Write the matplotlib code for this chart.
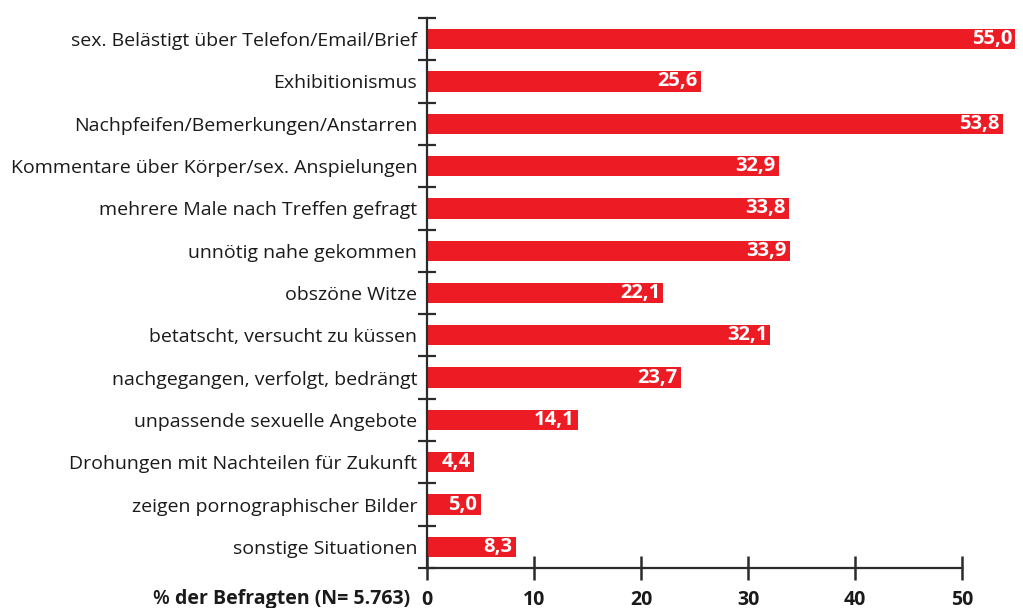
import matplotlib
matplotlib.use("Agg")
import matplotlib.pyplot as plt
import numpy as np

categories = [
    "sex. Belästigt über Telefon/Email/Brief",
    "Exhibitionismus",
    "Nachpfeifen/Bemerkungen/Anstarren",
    "Kommentare über Körper/sex. Anspielungen",
    "mehrere Male nach Treffen gefragt",
    "unnötig nahe gekommen",
    "obszöne Witze",
    "betatscht, versucht zu küssen",
    "nachgegangen, verfolgt, bedrängt",
    "unpassende sexuelle Angebote",
    "Drohungen mit Nachteilen für Zukunft",
    "zeigen pornographischer Bilder",
    "sonstige Situationen",
]
values = [55.0, 25.6, 53.8, 32.9, 33.8, 33.9, 22.1, 32.1, 23.7, 14.1, 4.4, 5.0, 8.3]
xticks = [0, 10, 20, 30, 40, 50]
xlabel_pct = "%"
xlabel_rest = "der Befragten (N= 5.763)"

FONT = "Open Sans"
RED = "#ED1C24"
DARK = "#2b2b2b"

fig = plt.figure(figsize=(10.23, 6.08), dpi=100)
ax = fig.add_axes([427/1023, 1-568/608, (55.5*10.7)/1023, 550/608])

y = np.arange(len(categories))
ax.barh(y, values, height=0.48, color=RED, edgecolor="none")
for yi, v in zip(y, values):
    ax.text(v - 0.3, yi, f"{v:.1f}".replace(".", ","), ha="right", va="center",
            color="white", fontsize=14.5, fontweight="bold", family=FONT)

ax.set_xlim(0, 55.5)
ax.set_ylim(len(categories) - 0.5, -0.5)

for s in ["top", "right"]:
    ax.spines[s].set_visible(False)
ax.spines["left"].set_color(DARK)
ax.spines["left"].set_linewidth(1.6)
ax.spines["bottom"].set_color(DARK)
ax.spines["bottom"].set_linewidth(1.6)
ax.spines["bottom"].set_bounds(0, 50)

ax.set_yticks(y)
ax.set_yticklabels(categories, fontsize=14, family=FONT, color="#1a1a1a")
ax.tick_params(axis="y", which="major", length=0, pad=7)
ax.set_yticks(np.arange(-0.5, len(categories), 1.0), minor=True)
ax.tick_params(axis="y", which="minor", direction="inout", length=13, width=1.6, color=DARK)

ax.set_xticks(xticks)
ax.set_xticklabels([str(t) for t in xticks], fontsize=14, fontweight="bold", family=FONT, color="#1a1a1a")
ax.tick_params(axis="x", which="major", direction="inout", length=17, width=1.8, color=DARK, pad=7)

ty = 1 - 599/608
fig.text(0.4008, ty, xlabel_rest, ha="right", va="center", fontsize=14,
         fontweight="bold", family=FONT, color="#1a1a1a")
fig.text(0.1486, ty, xlabel_pct, ha="left", va="center", fontsize=14,
         fontweight="semibold", family=FONT, color="#1a1a1a")

fig.savefig("out.png", dpi=100)
